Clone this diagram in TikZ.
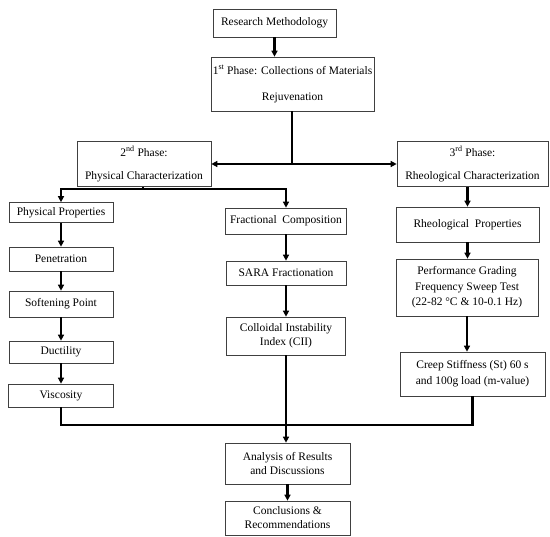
\documentclass[tikz,border=0pt]{standalone}
\usepackage{fontspec}
\setmainfont{Liberation Serif}
\usetikzlibrary{arrows.meta}
\begin{document}
\begin{tikzpicture}[x=1pt,y=-1pt,
  box/.style={draw=black!75,line width=0.7pt,align=center,inner sep=0pt,
    font=\fontsize{11.5}{14}\selectfont},
  conn/.style={line width=2.2pt,black},
  arr/.style={conn,-{Triangle[length=6pt,width=6pt]}}]
\useasboundingbox (0,0) rectangle (550,537);
\node[box,minimum width=123pt,minimum height=28pt] (rm) at (274.5,23) {Research Methodology};
\node[box,minimum width=163pt,minimum height=54pt] (p1) at (292.5,84) {1\textsuperscript{st} Phase: Collections of Materials\\[12pt]Rejuvenation};
\node[box,minimum width=134pt,minimum height=45pt] (p2) at (144,164) {2\textsuperscript{nd} Phase:\\[9pt]Physical Characterization};
\node[box,minimum width=151pt,minimum height=45pt] (p3) at (472.5,164) {3\textsuperscript{rd} Phase:\\[9pt]Rheological Characterization};
\node[box,minimum width=104pt,minimum height=20pt] (pp) at (61,212.5) {Physical Properties};
\node[box,minimum width=104pt,minimum height=24pt] (pen) at (61,259) {Penetration};
\node[box,minimum width=104pt,minimum height=26pt] (sp) at (61,304) {Softening Point};
\node[box,minimum width=104pt,minimum height=22pt] (du) at (61,352) {Ductility};
\node[box,minimum width=105pt,minimum height=23pt] (vi) at (61,395.5) {Viscosity};
\node[box,minimum width=121pt,minimum height=26pt] (fc) at (286,221) {Fractional\ \ Composition};
\node[box,minimum width=120pt,minimum height=24pt] (sara) at (286,273) {SARA Fractionation};
\node[box,minimum width=119pt,minimum height=38pt] (cii) at (286,336) {Colloidal Instability\\Index (CII)};
\node[box,minimum width=143pt,minimum height=35pt] (rp) at (467.5,224.5) {Rheological\ \ Properties};
\node[box,minimum width=142pt,minimum height=57pt,font=\fontsize{11.5}{15.5}\selectfont] (pg) at (467,287.5) {Performance Grading\\Frequency Sweep Test\\(22-82 °C \& 10-0.1 Hz)};
\node[box,minimum width=145pt,minimum height=44pt,font=\fontsize{11.5}{16}\selectfont] (cs) at (472.5,374) {Creep Stiffness (St) 60 s\\and 100g load (m-value)};
\node[box,minimum width=125pt,minimum height=41pt] (an) at (287.5,463.5) {Analysis of Results\\and Discussions};
\node[box,minimum width=125pt,minimum height=34pt] (co) at (287.5,518) {Conclusions \&\\Recommendations};
% connectors
\coordinate (j1) at (292,164);
\coordinate (j2) at (143,189);
\coordinate (j3) at (61,425);
\draw[arr] (rm.south) -- (rm.south |- p1.north);
\draw[conn] (p1.south -| j1) -- (j1);
\draw[arr] (j1) -- (j1 -| p2.east);
\draw[arr] (j1) -- (j1 -| p3.west);
\draw[conn] (p2.south -| j2) -- (j2);
\draw[arr] (j2) -| (pp.north);
\draw[arr] (j2) -| (fc.north);
\draw[arr] (pp) -- (pen);
\draw[arr] (pen) -- (sp);
\draw[arr] (sp) -- (du);
\draw[arr] (du) -- (vi);
\draw[arr] (fc) -- (sara);
\draw[arr] (sara) -- (cii);
\draw[arr] (cii.south) -- (cii.south |- an.north);
\draw[arr] (p3.south -| rp.north) -- (rp.north);
\draw[arr] (rp.south) -- (rp.south |- pg.north);
\draw[arr] (pg.south) -- (pg.south |- cs.north);
\draw[conn] (vi.south) -- (j3) -| (cs.south);
\draw[arr] (an) -- (co);
\end{tikzpicture}
\end{document}
